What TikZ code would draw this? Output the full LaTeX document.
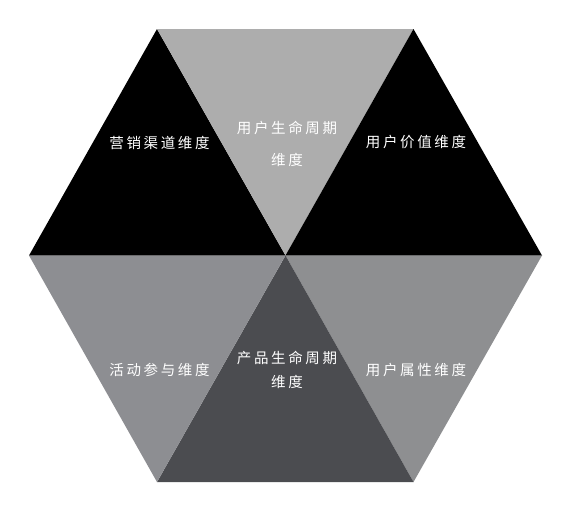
\documentclass[tikz,border=0pt]{standalone}
\usepackage{fontspec}
\newfontfamily\cjk[LetterSpace=18]{Noto Sans CJK SC}
\definecolor{palegrey}{HTML}{ADADAD}
\definecolor{midgrey}{HTML}{8D8E92}
\definecolor{sidegrey}{HTML}{8E8F91}
\definecolor{slategrey}{HTML}{4B4C50}
\tikzset{
  dimlabel/.style={text=white, inner sep=0pt, align=center,
    font=\cjk\fontsize{14.5}{23.5}\selectfont}
}
\begin{document}
\begin{tikzpicture}[x=1pt,y=-1pt]
      \useasboundingbox (0,0) rectangle (564,512);
      \path
        (29,255.5) coordinate (L)
        (157,29) coordinate (TL)
        (413.5,29) coordinate (TR)
        (542,255.5) coordinate (R)
        (413.5,482) coordinate (BR)
        (157,482) coordinate (BL)
        (285.5,255.5) coordinate (C);
      \begin{scope}[draw=none]
        \fill[black] (L) -- (TL) -- (C) -- cycle;
        \fill[palegrey] (TL) -- (TR) -- (C) -- cycle;
        \fill[black] (TR) -- (R) -- (C) -- cycle;
        \fill[sidegrey] (R) -- (BR) -- (C) -- cycle;
        \fill[slategrey] (BR) -- (BL) -- (C) -- cycle;
        \fill[midgrey] (BL) -- (L) -- (C) -- cycle;
      \end{scope}
      \node[dimlabel] (channel) at (159.5,142.5) {营销渠道维度};
      \node[dimlabel] (lifecycle) at (287,144) {用户生命周期\\[8pt]维度};
      \node[dimlabel] (value) at (416,142.5) {用户价值维度};
      \node[dimlabel] (activity) at (159.5,369.5) {活动参与维度};
      \node[dimlabel] (product) at (287,370) {产品生命周期\\维度};
      \node[dimlabel] (attribute) at (416,369.5) {用户属性维度};
    \end{tikzpicture}
\end{document}
